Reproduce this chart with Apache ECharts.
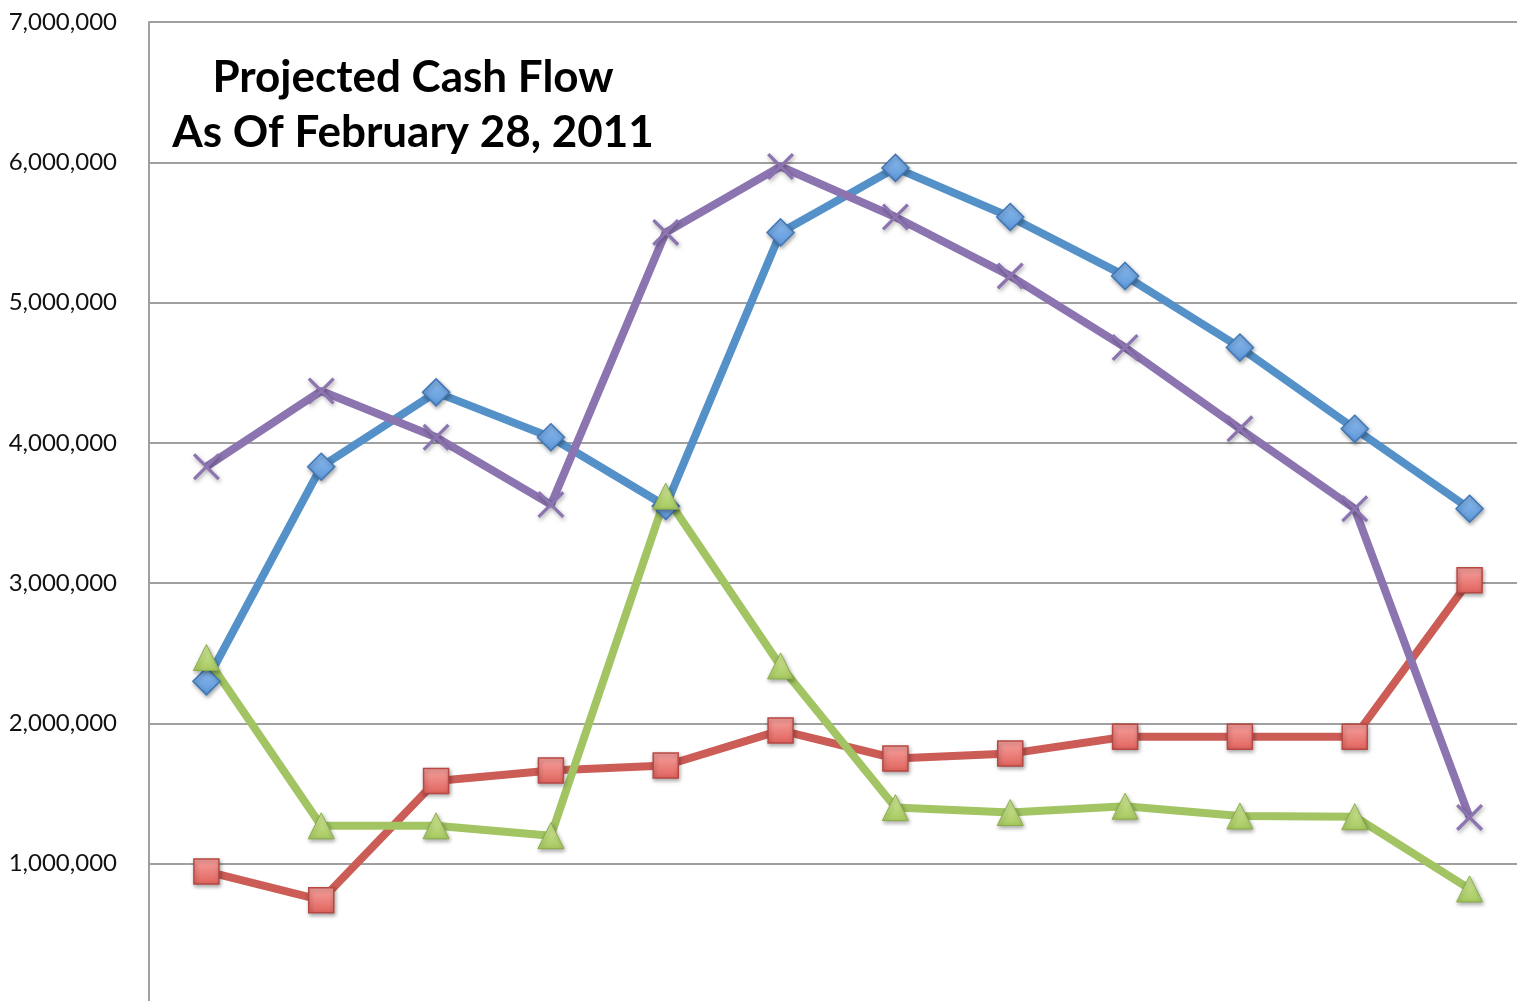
<!DOCTYPE html>
<html>
<head>
<meta charset="utf-8">
<title>Projected Cash Flow</title>
<script src="https://cdn.jsdelivr.net/npm/echarts@6/dist/echarts.min.js"></script>
<style>
  html, body { margin: 0; padding: 0; background: #fff; }
  #chart { width: 1517px; height: 1001px; }
</style>
</head>
<body>
<div id="chart"></div>
<script>
// months of the projection (labels are cut off in the source picture)
var months = ['Mar', 'Apr', 'May', 'Jun', 'Jul', 'Aug', 'Sep', 'Oct', 'Nov', 'Dec', 'Jan', 'Feb']

var beginningCash = [2300000, 3830000, 4360000, 4040000, 3550000, 5500000, 5960000, 5610000, 5190000, 4680000, 4100000, 3530000]
var disbursements = [945000, 740000, 1590000, 1665000, 1700000, 1950000, 1750000, 1785000, 1905000, 1905000, 1905000, 3020000]
var receipts = [2470000, 1270000, 1270000, 1200000, 3620000, 2410000, 1400000, 1365000, 1410000, 1340000, 1335000, 820000]
var endingCash = [3830000, 4370000, 4040000, 3560000, 5500000, 5970000, 5610000, 5190000, 4680000, 4100000, 3530000, 1330000]

var yTicks = { min: 0, max: 7000000, interval: 1000000 }

var xPath = 'path://M0,1.2L1.2,0L14,12.8L12.8,14Z M12.8,0L14,1.2L1.2,14L0,12.8Z'

function grad(top, bottom) {
  return new echarts.graphic.LinearGradient(0, 0, 0, 1, [
    { offset: 0, color: top },
    { offset: 1, color: bottom }
  ])
}

var markerShadow = {
  shadowBlur: 4,
  shadowColor: 'rgba(0,0,0,0.35)',
  shadowOffsetX: 1,
  shadowOffsetY: 2
}

var chart = echarts.init(document.getElementById('chart'))
chart.setOption({
  animation: false,
  graphic: [{
    type: 'text',
    x: 413,
    y: 50,
    style: {
      text: 'Projected Cash Flow\nAs Of February 28, 2011',
      align: 'center',
      verticalAlign: 'top',
      fontFamily: 'Lato',
      fontWeight: 'bold',
      fontSize: 44,
      lineHeight: 55,
      fill: '#000'
    }
  }],
  grid: {
    left: 149,
    top: 22,
    width: 1378,
    height: 982,
    outerBoundsMode: 'none'
  },
  xAxis: {
    type: 'category',
    data: months,
    boundaryGap: true,
    axisLabel: { show: false },
    axisTick: { show: false },
    axisLine: { lineStyle: { color: '#a0a0a0', width: 2 } }
  },
  yAxis: {
    type: 'value',
    min: yTicks.min,
    max: yTicks.max,
    interval: yTicks.interval,
    axisLine: { show: true, lineStyle: { color: '#a0a0a0', width: 2 } },
    axisTick: { show: false },
    splitLine: { lineStyle: { color: '#a0a0a0', width: 2 } },
    axisLabel: {
      showMinLabel: false,
      margin: 32,
      color: '#111',
      fontFamily: 'Lato',
      fontSize: 24,
      padding: [6, 0, 0, 0],
      formatter: function (v) { return v.toLocaleString('en-US') }
    }
  },
  series: [
    {
      name: 'Beginning Cash',
      type: 'line',
      data: beginningCash,
      symbol: 'diamond',
      symbolSize: 27,
      lineStyle: { color: '#5591c9', width: 8 },
      itemStyle: Object.assign({ color: grad('#8dbcf0', '#5d97d8'), borderColor: '#3f77b8', borderWidth: 1.5 }, markerShadow)
    },
    {
      name: 'Disbursements',
      type: 'line',
      data: disbursements,
      symbol: 'rect',
      symbolSize: 25,
      lineStyle: { color: '#cc5c56', width: 8 },
      itemStyle: Object.assign({ color: grad('#f7a3a0', '#e0625c'), borderColor: '#b84843', borderWidth: 1.5 }, markerShadow)
    },
    {
      name: 'Receipts',
      type: 'line',
      data: receipts,
      symbol: 'triangle',
      symbolSize: 26,
      lineStyle: { color: '#a2c462', width: 8 },
      itemStyle: Object.assign({ color: grad('#d3ea9c', '#a6c95f'), borderColor: '#8aae48', borderWidth: 1 }, markerShadow)
    },
    {
      name: 'Ending Cash',
      type: 'line',
      data: endingCash,
      symbol: xPath,
      symbolSize: 27,
      symbolKeepAspect: true,
      lineStyle: { color: '#8c74b1', width: 8 },
      itemStyle: Object.assign({ color: '#8c74b1' }, markerShadow)
    }
  ]
})
</script>
</body>
</html>
